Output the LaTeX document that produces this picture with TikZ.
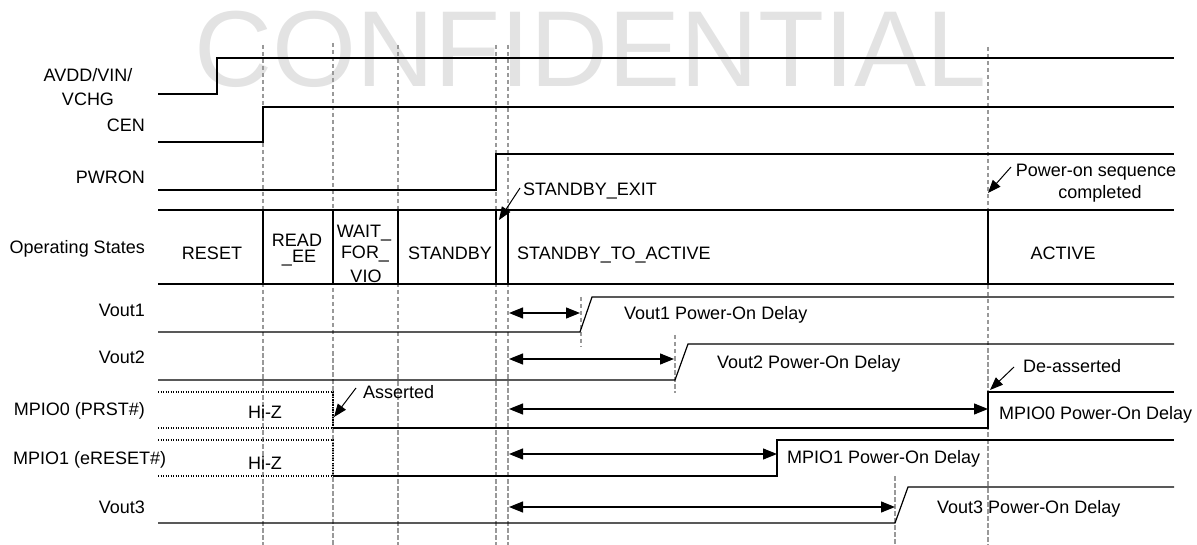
\documentclass[tikz,border=0pt]{standalone}
\usepackage{fontspec}
\setmainfont{Liberation Sans}
\usetikzlibrary{arrows.meta}
\begin{document}
\begin{tikzpicture}[x=1pt,y=-1pt,
  wave/.style={line width=1.2pt, line join=miter},
  hiz/.style={line width=1.2pt, dash pattern=on 1.2pt off 1.3pt},
  vguide/.style={draw=black!40, line width=1.3pt, dash pattern=on 4.5pt off 2.5pt},
  dimarr/.style={line width=1.2pt, {Triangle[length=14pt,width=11pt]}-{Triangle[length=14pt,width=11pt]}},
  callout/.style={line width=1pt, -{Triangle[length=13pt,width=10pt]}},
  txt/.style={font=\fontsize{18}{21}\selectfont, inner sep=0pt},
  rlab/.style={txt, anchor=base east},
  llab/.style={txt, anchor=base west},
  clab/.style={txt, anchor=base},
]
\useasboundingbox (0,0) rectangle (1197,545);
% watermark
\node[font=\fontsize{108}{120}\selectfont, text=black!11, inner sep=0pt, anchor=base] (wm) at (591,87) {CONFIDENTIAL};

% guide lines
\foreach \x/\t in {263/45,333/43,398/45,496/45,508/45,988/47}
  \draw[vguide] (\x,\t) -- (\x,545);
\draw[vguide] (581,297) -- (581,347);
\draw[vguide] (675,335) -- (675,393);
\draw[vguide] (895,476) -- (895,545);

% waveforms
\draw[wave] (158,94) -- (217,94) -- (217,58) -- (1174,58);
\draw[wave] (158,142) -- (263,142) -- (263,107) -- (1174,107);
\draw[wave] (158,190) -- (496,190) -- (496,154) -- (1174,154);
\draw[wave] (158,210) -- (1174,210);
\draw[wave] (158,284) -- (1174,284);
\foreach \x in {263,333,398,496,508,988}
  \draw[wave] (\x,210) -- (\x,284);
\draw[wave] (158,332) -- (580,332) -- (592,297) -- (1174,297);
\draw[wave] (158,380) -- (675,380) -- (688,344) -- (1174,344);
\draw[hiz] (158,392) -- (333,392) -- (333,428);
\draw[hiz] (158,428) -- (333,428);
\draw[wave] (333,428) -- (988,428) -- (988,392) -- (1174,392);
\draw[hiz] (158,440) -- (333,440) -- (333,476);
\draw[hiz] (158,476) -- (333,476);
\draw[wave] (333,476) -- (777,476) -- (777,440) -- (1174,440);
\draw[wave] (158,523) -- (895,523) -- (908,487) -- (1174,487);

% signal names
\node[txt, align=center, anchor=base] (avdd) at (88,82) {AVDD/VIN/};
\node[clab] (vchg) at (88,106) {VCHG};
\node[rlab] (cen) at (145,132) {CEN};
\node[rlab] (pwron) at (145,184) {PWRON};
\node[rlab] (ops) at (145,254) {Operating States};
\node[rlab] (nv1) at (145,317) {Vout1};
\node[rlab] (nv2) at (145,363) {Vout2};
\node[rlab] (nm0) at (145,415) {MPIO0 (PRST\#)};
\node[llab] (nm1) at (13,464) {MPIO1 (eRESET\#)};
\node[rlab] (nv3) at (145,513) {Vout3};

% states
\node[clab] (sreset) at (212,260) {RESET};
\node[clab] (sread1) at (297,247) {READ};
\node[clab] (sread2) at (299,263) {\_EE};
\node[clab] (swait1) at (364,238) {WAIT\_};
\node[clab] (swait2) at (365,259) {FOR\_};
\node[clab] (swait3) at (366,283) {VIO};
\node[clab] (sstby) at (450,260) {STANDBY};
\node[llab] (sta) at (517,260) {STANDBY\_TO\_ACTIVE};
\node[clab] (sact) at (1063,260) {ACTIVE};

% Hi-Z
\node[clab] (hz0) at (265,418) {Hi-Z};
\node[clab] (hz1) at (265,469) {Hi-Z};

% delay labels
\node[llab] (d1) at (624,320) {Vout1 Power-On Delay};
\node[llab] (d2) at (717,368) {Vout2 Power-On Delay};
\node[llab] (d0) at (999,419) {MPIO0 Power-On Delay};
\node[llab] (dm1) at (787,463) {MPIO1 Power-On Delay};
\node[llab] (d3) at (937,513) {Vout3 Power-On Delay};

% dimension arrows
\coordinate (a1s) at (509,313); \coordinate (a1e) at (580,313);
\coordinate (a2s) at (509,359); \coordinate (a2e) at (674,359);
\coordinate (a0s) at (509,409); \coordinate (a0e) at (988,409);
\coordinate (am1s) at (509,454); \coordinate (am1e) at (777,454);
\coordinate (a3s) at (509,507); \coordinate (a3e) at (895,507);
\draw[dimarr] (a1s) -- (a1e);
\draw[dimarr] (a2s) -- (a2e);
\draw[dimarr] (a0s) -- (a0e);
\draw[dimarr] (am1s) -- (am1e);
\draw[dimarr] (a3s) -- (a3e);

% callouts
\node[llab] (sbx) at (523,196) {STANDBY\_EXIT};
\coordinate (sbxa) at (520,188); \coordinate (sbxt) at (499,220);
\draw[callout] (sbxa) -- (sbxt);

\node[clab] (pos1) at (1096,177) {Power-on sequence};
\node[clab] (pos2) at (1100,199) {completed};
\coordinate (posa) at (1011,167); \coordinate (post) at (988,193);
\draw[callout] (posa) -- (post);

\node[llab] (deas) at (1023,372) {De-asserted};
\coordinate (deasa) at (1014,367); \coordinate (deast) at (990,390);
\draw[callout] (deasa) -- (deast);

\node[llab] (asrt) at (363,399) {Asserted};
\coordinate (asrta) at (356,388); \coordinate (asrtt) at (334,417);
\draw[callout] (asrta) -- (asrtt);
\end{tikzpicture}
\end{document}
